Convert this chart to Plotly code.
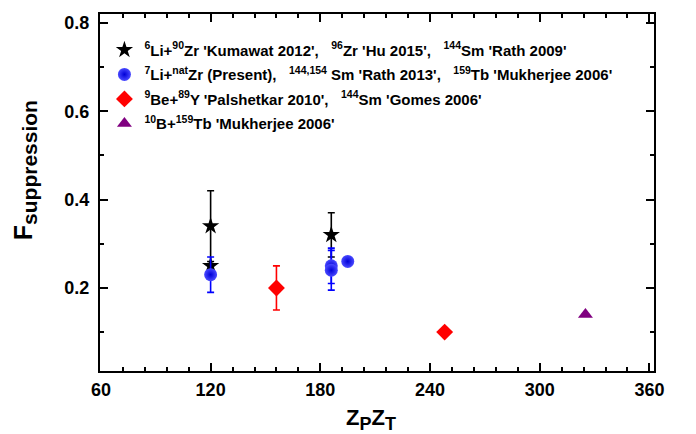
import plotly.graph_objects as go

# ---- data ----
star_x = [120, 120, 186]
star_y = [0.34, 0.25, 0.32]
star_err = [0.08, 0.0, 0.05]

ball_x = [120, 186, 186, 195]
ball_y = [0.23, 0.25, 0.24, 0.26]
ball_err = [0.04, 0.04, 0.045, 0.0]

dia_x = [156, 248]
dia_y = [0.20, 0.10]
dia_err = [0.05, 0.0]

tri_x = [325]
tri_y = [0.14]

x_ticks = [60, 120, 180, 240, 300, 360]
y_ticks = [0.2, 0.4, 0.6, 0.8]
y_ticktext = ["0.2", "0.4", "0.6", "0.8"]

S = "\u00a0\u00a0\u00a0"
names = [
    "<sup>6</sup>Li+<sup>90</sup>Zr 'Kumawat 2012'," + S + "<sup>96</sup>Zr 'Hu 2015'," + S + "<sup>144</sup>Sm 'Rath 2009'",
    "<sup>7</sup>Li+<sup>nat</sup>Zr (Present)," + S + "<sup>144,154</sup> Sm 'Rath 2013'," + S + "<sup>159</sup>Tb 'Mukherjee 2006'",
    "<sup>9</sup>Be+<sup>89</sup>Y 'Palshetkar 2010'," + S + "<sup>144</sup>Sm 'Gomes 2006'",
    "<sup>10</sup>B+<sup>159</sup>Tb 'Mukherjee 2006'",
]

FONT = "Liberation Sans, Arial"

fig = go.Figure()

fig.add_trace(go.Scatter(
    x=star_x, y=star_y, mode="markers", name=names[0], legendgroup="g1",
    marker=dict(symbol="star", size=13, color="black"),
    error_y=dict(type="data", array=star_err, color="black", thickness=1.6, width=3.5),
))
fig.add_trace(go.Scatter(
    x=ball_x, y=ball_y, mode="markers", name=names[1], legendgroup="g2",
    marker=dict(symbol="circle", size=13, color="#4a4aff",
                gradient=dict(type="radial", color="#0000d8")),
    error_y=dict(type="data", array=ball_err, color="#0000ff", thickness=1.6, width=3.5),
))
fig.add_trace(go.Scatter(
    x=dia_x, y=dia_y, mode="markers", name=names[2], legendgroup="g3",
    marker=dict(symbol="diamond", size=13, color="#ff0000"),
    error_y=dict(type="data", array=dia_err, color="#ff0000", thickness=1.6, width=3.5),
))
fig.add_trace(go.Scatter(
    x=tri_x, y=tri_y, mode="markers", name=names[3], legendgroup="g4",
    marker=dict(symbol="triangle-up", size=13, color="#800080"),
))

axis_common = dict(
    showline=True, linecolor="black", linewidth=2, mirror="ticks",
    ticks="inside", ticklen=8, tickwidth=2, tickcolor="black",
    showgrid=False, zeroline=False,
    tickfont=dict(family=FONT, size=18, color="black", weight="bold"),
)

fig.update_xaxes(
    range=[59.5, 362.5], tickmode="array", tickvals=x_ticks,
    minor=dict(dtick=12, tick0=60, ticks="inside", ticklen=4, tickwidth=2, tickcolor="black"),
    ticklabelstandoff=1,
    **axis_common,
)
fig.update_yaxes(
    range=[0.012, 0.82], tickmode="array", tickvals=y_ticks, ticktext=y_ticktext,
    minor=dict(dtick=0.1, tick0=0.0, ticks="inside", ticklen=4, tickwidth=2, tickcolor="black"),
    ticklabelstandoff=5,
    **axis_common,
)

fig.add_annotation(
    text="Z<sub><span style='font-size:18px'>P</span></sub>Z<sub><span style='font-size:18px'>T</span></sub>",
    xref="paper", yref="paper",
    x=0.49, y=-0.135, xanchor="center", yanchor="middle", showarrow=False,
    font=dict(family=FONT, size=22, color="black", weight="bold"),
)
fig.add_annotation(
    text="F<sub><span style='font-size:21px'>suppression</span></sub>",
    xref="paper", yref="paper",
    x=-0.135, y=0.563, xanchor="center", yanchor="middle", showarrow=False,
    textangle=-90,
    font=dict(family=FONT, size=25, color="black", weight="bold"),
)

# page body has an 8px margin; compensate so the plot area sits where the reference has it
fig.update_layout(
    width=688, height=426,
    margin=dict(l=92, r=42, t=4, b=63),
    paper_bgcolor="white", plot_bgcolor="white",
    showlegend=True,
    legend=dict(
        x=0.008, y=0.945, xanchor="left", yanchor="top",
        bgcolor="rgba(0,0,0,0)", borderwidth=0,
        font=dict(family=FONT, size=15, color="black", weight="bold"),
        itemwidth=30, tracegroupgap=2,
    ),
)

fig.write_html("out.html")
